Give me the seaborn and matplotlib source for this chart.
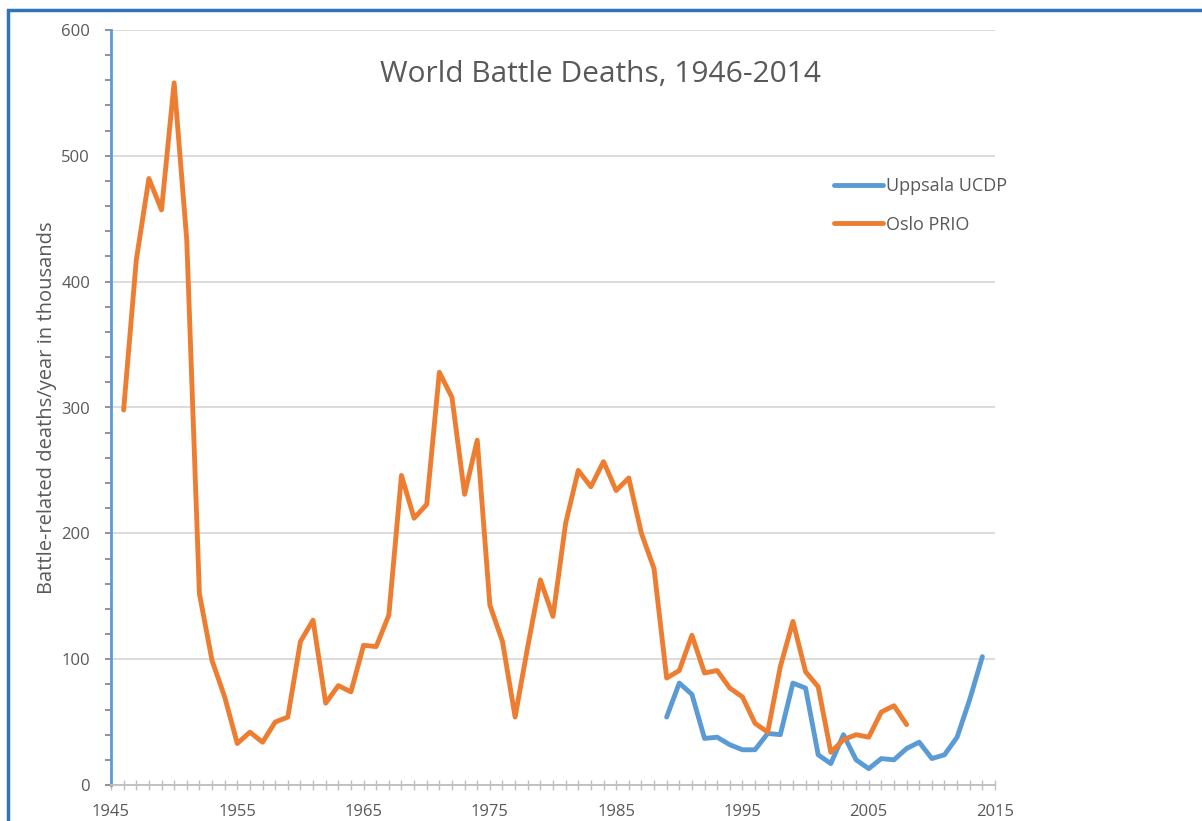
import matplotlib
matplotlib.use("Agg")
import matplotlib.pyplot as plt
from matplotlib.patches import Rectangle
from matplotlib.ticker import MultipleLocator
import pandas as pd
import seaborn as sns

# Oslo PRIO, battle deaths in thousands, 1946-2008
prio_years = list(range(1946, 2009))
prio_deaths = [298, 417, 482, 457, 558, 433, 152, 99, 70, 33,
               42, 34, 50, 54, 114, 131, 65, 79, 74, 111,
               110, 135, 246, 212, 223, 328, 308, 231, 274, 143,
               114, 54, 110, 163, 134, 208, 250, 237, 257, 234,
               244, 200, 172, 85, 91, 119, 89, 91, 77, 70,
               49, 42, 94, 130, 90, 78, 26, 36, 40, 38,
               58, 63, 48]

# Uppsala UCDP, 1989-2014
ucdp_years = list(range(1989, 2015))
ucdp_deaths = [54, 81, 72, 37, 38, 32, 28, 28, 41, 40,
               81, 77, 24, 17, 40, 20, 13, 21, 20, 29,
               34, 21, 24, 38, 68, 102]

series_names = ["Uppsala UCDP", "Oslo PRIO"]
series_colors = ["#5B9BD5", "#ED7D31"]
x_ticks = list(range(1945, 2016, 10))
y_ticks = list(range(0, 601, 100))

df = pd.concat([
    pd.DataFrame({"year": ucdp_years, "deaths": ucdp_deaths, "source": "Uppsala UCDP"}),
    pd.DataFrame({"year": prio_years, "deaths": prio_deaths, "source": "Oslo PRIO"}),
])

sns.set_style("white")
plt.rcParams["font.family"] = ["Open Sans", "DejaVu Sans"]
grey = "#595959"

W, H = 1202, 821
fig = plt.figure(figsize=(W / 100, H / 100), dpi=100)
ax = fig.add_axes([111 / W, 1 - 785 / H, (995 - 111) / W, (785 - 30) / H])

sns.lineplot(data=df, x="year", y="deaths", hue="source", hue_order=series_names,
             palette=series_colors, linewidth=3.5, errorbar=None, ax=ax, zorder=3)

ax.set_xlim(1945, 2015)
ax.set_ylim(0, 600)
ax.set_xticks(x_ticks)
ax.set_yticks(y_ticks)
ax.xaxis.set_minor_locator(MultipleLocator(1))
ax.yaxis.set_minor_locator(MultipleLocator(20))
ax.grid(axis="y", which="major", color="#d9d9d9", linewidth=1.3, zorder=0)
ax.set_axisbelow(True)

for s in ["top", "right"]:
    ax.spines[s].set_visible(False)
ax.spines["left"].set_color("#5B9BD5")
ax.spines["left"].set_linewidth(2)
ax.spines["bottom"].set_color("#bfbfbf")
ax.spines["bottom"].set_linewidth(1.3)

ax.tick_params(axis="y", which="both", left=True, direction="out", length=4, width=1.2,
               color="#7f7f7f", labelsize=12, labelcolor=grey, pad=11)
ax.tick_params(axis="x", which="both", bottom=True, direction="inout", length=7, width=1,
               color="#bfbfbf", labelsize=12, labelcolor=grey, pad=10)

ax.set_xlabel("")
ax.set_ylabel("Battle-related deaths/year in thousands", fontsize=14.5, color=grey, labelpad=3)

fig.text(601 / W, 1 - 75 / H, "World Battle Deaths, 1946-2014", fontsize=21.5,
         color=grey, ha="center", va="center")

handles, labels = ax.get_legend_handles_labels()
ax.legend(handles, labels, loc="upper left", bbox_to_anchor=(825 / W, 1 - 168 / H),
          bbox_transform=fig.transFigure, frameon=False, fontsize=13,
          handlelength=2.7, handletextpad=0.2, labelspacing=1.15, borderpad=0,
          labelcolor=grey)

fig.patches.append(Rectangle((8 / W, -0.1), 1.2, 1 - 10 / H + 0.1,
                             transform=fig.transFigure, fill=False,
                             edgecolor="#2E75B6", linewidth=2.5))

fig.savefig("out.png", dpi=100)
